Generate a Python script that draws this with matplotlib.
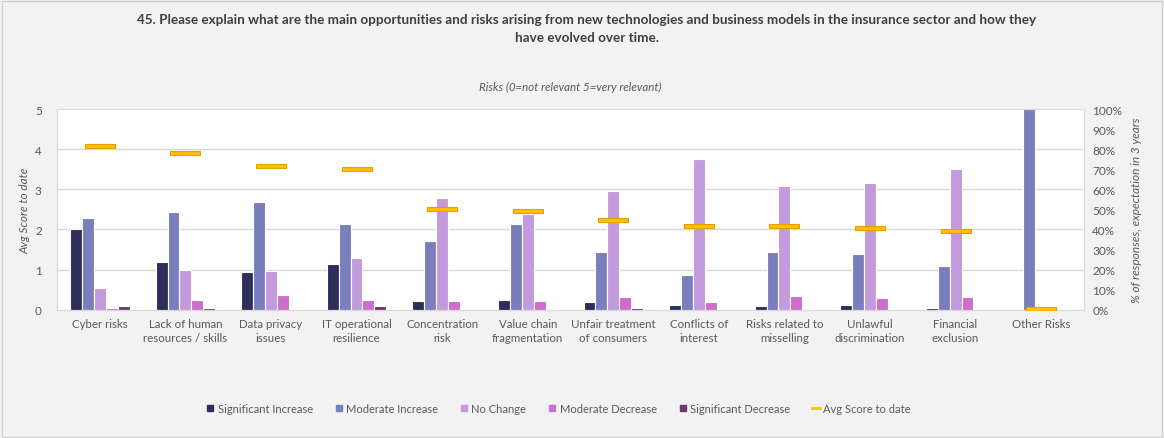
import matplotlib
matplotlib.use("Agg")
import matplotlib.pyplot as plt
from matplotlib.lines import Line2D
from matplotlib.patches import Rectangle
import numpy as np

plt.rcParams['font.family'] = ['Lato', 'DejaVu Sans']

categories = ["Cyber risks", "Lack of human\nresources / skills", "Data privacy\nissues",
              "IT operational\nresilience", "Concentration\nrisk", "Value chain\nfragmentation",
              "Unfair treatment\nof consumers", "Conflicts of\ninterest", "Risks related to\nmisselling",
              "Unlawful\ndiscrimination", "Financial\nexclusion", "Other Risks"]

series_names = ["Significant Increase", "Moderate Increase", "No Change",
                "Moderate Decrease", "Significant Decrease"]

# % of responses (right axis)
significant_increase = [40.0, 24.0, 18.6, 23.0, 4.2, 4.6, 3.7, 2.3, 2.0, 2.3, 0.8, 0.0]
moderate_increase    = [45.5, 48.8, 53.5, 42.9, 34.4, 42.5, 28.9, 17.3, 28.6, 27.6, 21.6, 100.0]
no_change            = [10.6, 20.0, 19.4, 25.7, 55.6, 47.7, 59.1, 75.2, 61.6, 63.0, 70.1, 0.0]
moderate_decrease    = [0.8, 5.0, 7.1, 5.0, 4.2, 4.2, 6.1, 3.7, 6.6, 5.6, 6.1, 0.0]
significant_decrease = [1.7, 0.8, 0.0, 2.0, 0.3, 0.0, 0.7, 0.0, 0.0, 0.0, 0.0, 0.0]

# Avg score to date (left axis)
avg_score = [4.09, 3.90, 3.59, 3.50, 2.51, 2.47, 2.23, 2.08, 2.08, 2.04, 1.96, 0.02]

colors = ["#2E2E5A", "#7A7EBD", "#C39BDD", "#CC6FCC", "#6A3A6E"]
avg_color = "#FFC000"
avg_edge = "#E8A000"
text_color = "#595959"

fig = plt.figure(figsize=(11.64, 4.39), dpi=100, facecolor="#F2F2F2")
fig.patches.append(Rectangle((0.0015, 0.002), 0.997, 0.994, transform=fig.transFigure,
                             fill=False, edgecolor="#D0D0D0", linewidth=1.0))

ax2 = fig.add_axes([0.049, 0.2923, 0.8822, 0.4571])  # bars (percent)
ax = ax2.twinx()
ax.yaxis.tick_left()
ax.yaxis.set_label_position("left")
ax2.yaxis.tick_right()
ax2.yaxis.set_label_position("right")
ax.set_zorder(ax2.get_zorder() + 1)
ax.patch.set_visible(False)
ax2.patch.set_visible(True)
ax2.set_facecolor("white")

x = np.arange(len(categories))
all_series = [significant_increase, moderate_increase, no_change, moderate_decrease, significant_decrease]
w = 0.139
for i, (vals, c) in enumerate(zip(all_series, colors)):
    ax2.bar(x + (i - 2) * w, np.array(vals) / 100.0, width=w, color=c,
            edgecolor="white", linewidth=0.8, zorder=3)

ax2.set_ylim(0, 1.0)
ax2.set_xlim(-0.5, len(categories) - 0.5)
ax2.set_yticks(np.arange(0, 1.01, 0.1))
ax2.set_yticklabels([f"{int(round(v*100))}%" for v in np.arange(0, 1.01, 0.1)])
ax.set_ylim(0, 5)
ax.set_yticks(range(0, 6))
for v in range(1, 5):
    ax2.axhline(v / 5.0, color="#D9D9D9", linewidth=1.0, zorder=1)

marker_verts = [(-1, -0.17), (1, -0.17), (1, 0.17), (-1, 0.17), (-1, -0.17)]
ax.plot(x, avg_score, linestyle="none", marker=marker_verts, markersize=21,
        markerfacecolor=avg_color, markeredgecolor=avg_edge, markeredgewidth=0.8, zorder=5)

ax2.set_xticks(x)
ax2.set_xticklabels(categories, fontsize=8.3, color=text_color, linespacing=1.3)
for a in (ax, ax2):
    for s in a.spines.values():
        s.set_color("#D9D9D9")
    a.tick_params(length=0, colors=text_color, labelsize=8.5)
ax2.tick_params(axis="x", pad=6, labelsize=8.3)
ax.tick_params(axis="y", pad=11)
ax2.tick_params(axis="y", pad=6)

ax.set_ylabel("Avg Score to date", fontsize=8.5, style="italic", color=text_color, labelpad=3)
ax2.set_ylabel("% of responses, expectation in 3 years", fontsize=8.5, style="italic",
               color=text_color, labelpad=6)

fig.text(0.5043, 0.934, "45. Please explain what are the main opportunities and risks arising from new technologies and business models in the insurance sector and how they\nhave evolved over time.",
         ha="center", va="center", fontsize=9.7, fontweight="bold", color="#3F3F3F", linespacing=1.55)
fig.text(0.49, 0.80, "Risks (0=not relevant 5=very relevant)", ha="center", va="center",
         fontsize=8.3, style="italic", color=text_color)

handles = [Line2D([], [], linestyle="none", marker="s", markersize=4.5, color=c) for c in colors]
handles.append(Line2D([], [], color=avg_color, linewidth=2))
labels = series_names + ["Avg Score to date"]
fig.legend(handles, labels, loc="center", bbox_to_anchor=(0.48, 0.068), ncol=6, frameon=False,
           fontsize=8, handlelength=0.7, handletextpad=0.3, columnspacing=2.0,
           labelcolor=text_color)

fig.savefig("out.png", dpi=100, facecolor=fig.get_facecolor())
